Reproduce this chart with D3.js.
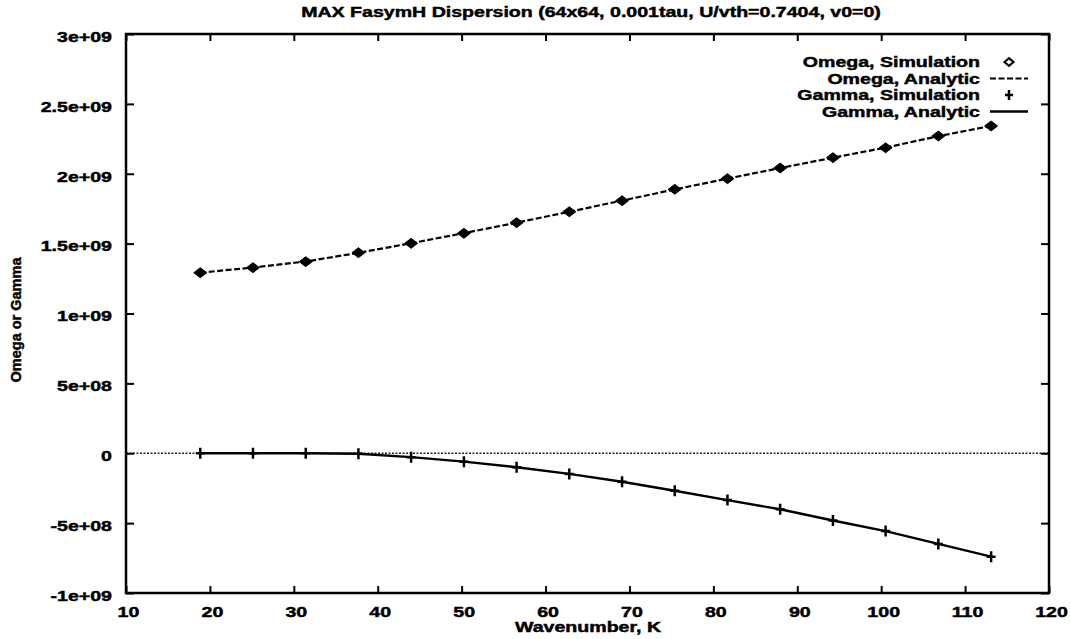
<!DOCTYPE html>
<html>
<head>
<meta charset="utf-8">
<script src="https://cdn.jsdelivr.net/npm/d3@7"></script>
<style>
  html, body { margin: 0; padding: 0; background: #fff; }
  svg text { font-family: "Liberation Sans", Arial, Helvetica, sans-serif; font-weight: bold; fill: #000;
             stroke: #000; stroke-width: 0.45px; }
</style>
</head>
<body>
<svg id="chart" width="1070" height="639"></svg>
<script>
// Wavenumbers of the resolved modes (k = 2*pi*n, n = 3..18)
const wavenumbers = [18.85, 25.13, 31.42, 37.70, 43.98, 50.27, 56.55, 62.83,
                     69.12, 75.40, 81.68, 87.96, 94.25, 100.53, 106.81, 113.10];

// Real frequency and growth rate from the simulation
const omegaSimulation = [1.292e9, 1.328e9, 1.371e9, 1.435e9, 1.502e9, 1.574e9, 1.650e9, 1.728e9,
                         1.807e9, 1.889e9, 1.965e9, 2.041e9, 2.115e9, 2.186e9, 2.270e9, 2.342e9];
const gammaSimulation = [0, 0, 0, -3e6, -2.9e7, -6.0e7, -1.00e8, -1.48e8,
                         -2.04e8, -2.68e8, -3.35e8, -4.00e8, -4.82e8, -5.56e8, -6.49e8, -7.40e8];

// Analytic dispersion relation at the same wavenumbers
const omegaAnalytic = [1.292e9, 1.329e9, 1.372e9, 1.434e9, 1.503e9, 1.575e9, 1.650e9, 1.728e9,
                       1.808e9, 1.888e9, 1.965e9, 2.041e9, 2.115e9, 2.187e9, 2.269e9, 2.342e9];
const gammaAnalytic = [0, 0, 0, -4e6, -2.8e7, -6.0e7, -1.00e8, -1.48e8,
                       -2.04e8, -2.68e8, -3.35e8, -4.01e8, -4.81e8, -5.57e8, -6.48e8, -7.40e8];

// Axis ticks
const xTicks = [10, 20, 30, 40, 50, 60, 70, 80, 90, 100, 110, 120];
const yTicks = [-1e9, -5e8, 0, 5e8, 1e9, 1.5e9, 2e9, 2.5e9, 3e9];
const yTickLabels = ["-1e+09", "-5e+08", "0", "5e+08", "1e+09", "1.5e+09", "2e+09", "2.5e+09", "3e+09"];

const titleText = "MAX FasymH Dispersion (64x64, 0.001tau, U/vth=0.7404, v0=0)";
const xLabel = "Wavenumber, K";
const yLabel = "Omega or Gamma";
const legendLabels = ["Omega, Simulation", "Omega, Analytic", "Gamma, Simulation", "Gamma, Analytic"];

// Plot frame
const plotLeft = 126, plotRight = 1049, plotTop = 34, plotBottom = 593;
const FS = 14.5;       // font size
const SX = 1.35;       // horizontal stretch of the lettering

const svg = d3.select("#chart");

const x = d3.scaleLinear().domain([10, 120]).range([plotLeft, plotRight]);
const y = d3.scaleLinear().domain([-1e9, 3e9]).range([plotBottom, plotTop]);

// Zero axis (dotted)
svg.append("line")
  .attr("x1", x(10)).attr("x2", x(120))
  .attr("y1", y(0)).attr("y2", y(0))
  .attr("stroke", "#222").attr("stroke-width", 1.6)
  .attr("stroke-dasharray", "2,1.5");

// Axes with inward ticks
const yLabelOf = d => yTickLabels[yTicks.indexOf(d)];

const gLeft = svg.append("g").attr("transform", `translate(${plotLeft},0)`)
  .call(d3.axisLeft(y).tickValues(yTicks).tickFormat(yLabelOf).tickSizeInner(-8).tickSizeOuter(0).tickPadding(14));
const gBottom = svg.append("g").attr("transform", `translate(0,${plotBottom})`)
  .call(d3.axisBottom(x).tickValues(xTicks).tickFormat(d3.format("d")).tickSizeInner(-7).tickSizeOuter(0).tickPadding(0));
const gRight = svg.append("g").attr("transform", `translate(${plotRight},0)`)
  .call(d3.axisRight(y).tickValues(yTicks).tickFormat("").tickSizeInner(-8).tickSizeOuter(0));
const gTop = svg.append("g").attr("transform", `translate(0,${plotTop})`)
  .call(d3.axisTop(x).tickValues(xTicks).tickFormat("").tickSizeInner(-7).tickSizeOuter(0));

[gLeft, gBottom, gRight, gTop].forEach(g => {
  g.select(".domain").remove();
  g.selectAll(".tick line").attr("stroke", "#000").attr("stroke-width", 2);
});

gLeft.selectAll(".tick text")
  .attr("x", null).attr("dy", "0.5em")
  .attr("text-anchor", "end")
  .attr("transform", `translate(-14,0) scale(${SX},1)`)
  .attr("font-size", null).attr("font-family", null)
  .style("font-size", FS + "px");

gBottom.selectAll(".tick text")
  .attr("y", null).attr("dy", null)
  .attr("text-anchor", "middle")
  .attr("transform", `translate(2,24) scale(${SX},1)`)
  .attr("font-size", null).attr("font-family", null)
  .style("font-size", FS + "px");

// Frame
svg.append("rect")
  .attr("x", plotLeft).attr("y", plotTop)
  .attr("width", plotRight - plotLeft).attr("height", plotBottom - plotTop)
  .attr("fill", "none").attr("stroke", "#000").attr("stroke-width", 2.5);

// Title and axis labels
svg.append("text")
  .attr("transform", `translate(591,17) scale(${SX},1)`)
  .attr("text-anchor", "middle").style("font-size", FS + "px")
  .text(titleText);

svg.append("text")
  .attr("transform", `translate(588,632) scale(${SX},1)`)
  .attr("text-anchor", "middle").style("font-size", FS + "px")
  .text(xLabel);

svg.append("text")
  .attr("transform", `translate(21,320) rotate(-90)`)
  .attr("text-anchor", "middle").style("font-size", FS + "px")
  .text(yLabel);

// Curves
const series = wavenumbers.map((k, i) => ({
  k, os: omegaSimulation[i], oa: omegaAnalytic[i], gs: gammaSimulation[i], ga: gammaAnalytic[i]
}));

const omegaLine = d3.line().x(d => x(d.k)).y(d => y(d.oa));
const gammaLine = d3.line().x(d => x(d.k)).y(d => y(d.ga));

svg.append("path").datum(series)
  .attr("d", omegaLine)
  .attr("fill", "none").attr("stroke", "#000").attr("stroke-width", 2.2)
  .attr("stroke-dasharray", "6,2.5");

svg.append("path").datum(series)
  .attr("d", gammaLine)
  .attr("fill", "none").attr("stroke", "#000").attr("stroke-width", 2.4);

// Marker shapes
const diamond = (w, h) => `M${-w},0L0,${-h}L${w},0L0,${h}Z`;
const plus = (w, h) => `M${-w},0H${w}M0,${-h}V${h}`;

svg.append("g").selectAll("path")
  .data(series).join("path")
  .attr("transform", d => `translate(${x(d.k)},${y(d.os)})`)
  .attr("d", diamond(6.5, 5))
  .attr("fill", "#000").attr("stroke", "#000").attr("stroke-width", 1);

svg.append("g").selectAll("path")
  .data(series).join("path")
  .attr("transform", d => `translate(${x(d.k)},${y(d.gs)})`)
  .attr("d", plus(4.5, 5.5))
  .attr("fill", "none").attr("stroke", "#000").attr("stroke-width", 2.5);

// Legend
const legendRows = [62, 78.5, 95, 111.5];
const legend = svg.append("g");
legendLabels.forEach((label, i) => {
  const cy = legendRows[i];
  legend.append("text")
    .attr("transform", `translate(980,${cy + 5.2}) scale(${SX},1)`)
    .attr("text-anchor", "end").style("font-size", FS + "px")
    .text(label);
});
legend.append("path")
  .attr("transform", `translate(1009,${legendRows[0]})`)
  .attr("d", diamond(4.5, 3.8))
  .attr("fill", "#fff").attr("stroke", "#000").attr("stroke-width", 2.2);
legend.append("line")
  .attr("x1", 990).attr("x2", 1028).attr("y1", legendRows[1]).attr("y2", legendRows[1])
  .attr("stroke", "#000").attr("stroke-width", 2.2).attr("stroke-dasharray", "6,2.5");
legend.append("path")
  .attr("transform", `translate(1009,${legendRows[2]})`)
  .attr("d", plus(4, 5))
  .attr("fill", "none").attr("stroke", "#000").attr("stroke-width", 2.5);
legend.append("line")
  .attr("x1", 990).attr("x2", 1028).attr("y1", legendRows[3]).attr("y2", legendRows[3])
  .attr("stroke", "#000").attr("stroke-width", 2.4);
</script>
</body>
</html>
